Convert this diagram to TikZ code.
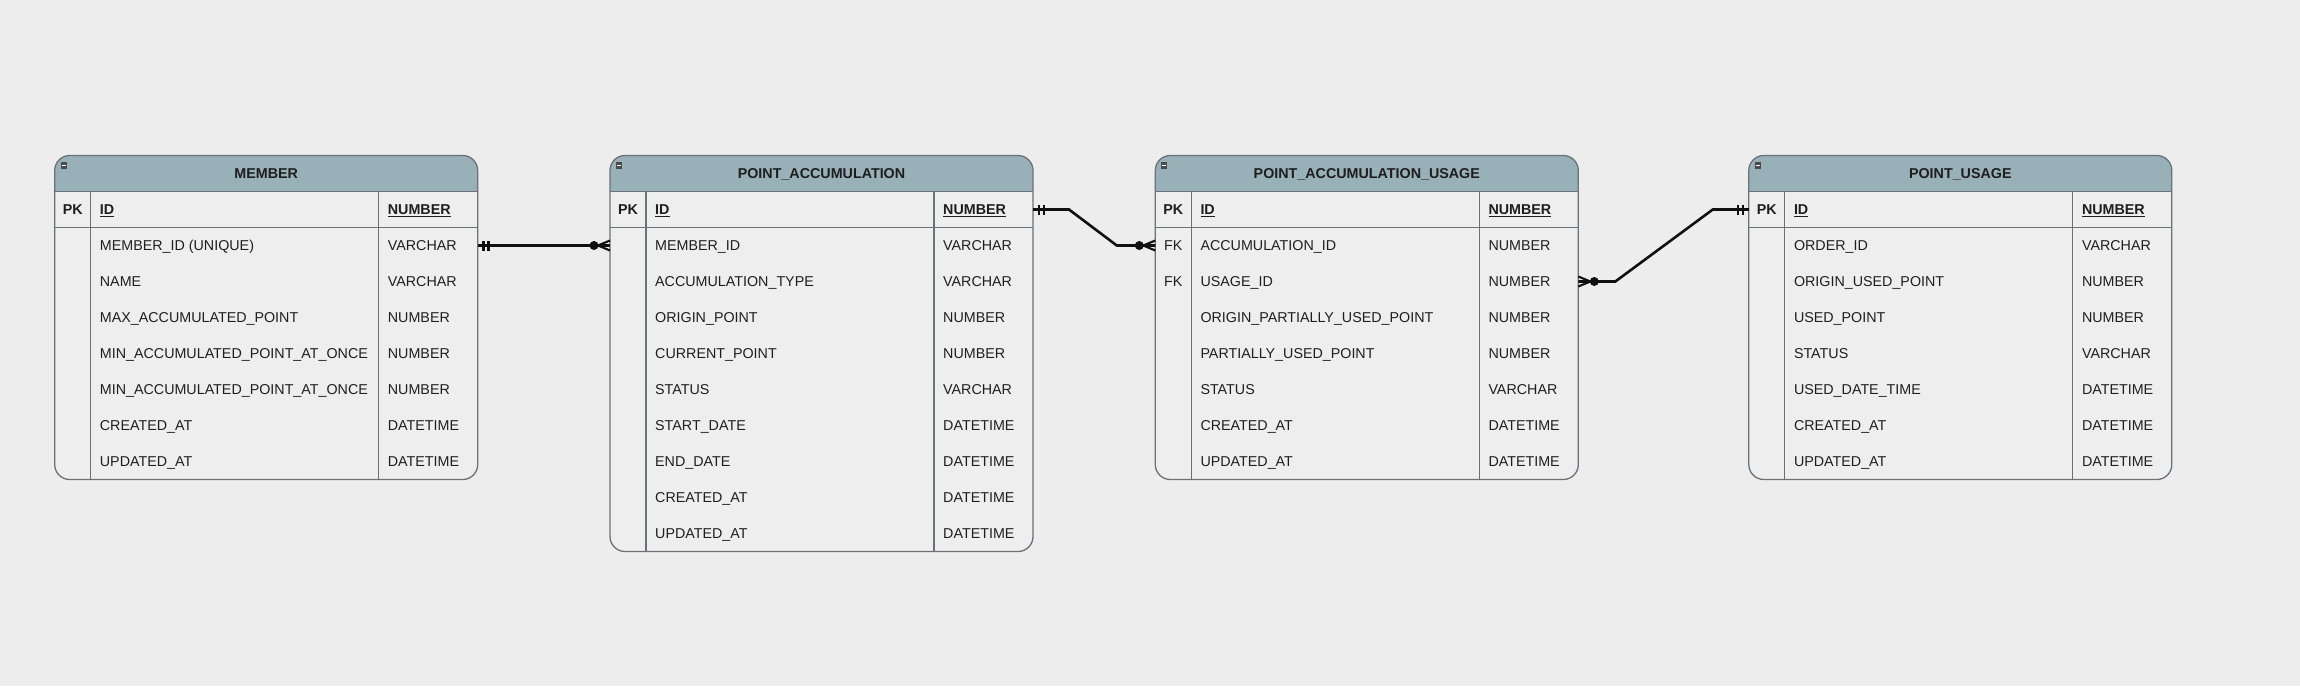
\documentclass[tikz,border=0pt]{standalone}
\usepackage{fontspec}
\setmainfont{Liberation Sans}
\definecolor{bg}{HTML}{EDEDED}
\definecolor{hdr}{HTML}{98B0B7}
\definecolor{bodyc}{HTML}{EEEEEE}
\definecolor{gridc}{HTML}{6B7176}
\definecolor{txt}{HTML}{1E1E1E}
\definecolor{iconc}{HTML}{4A4A4A}
\definecolor{relc}{HTML}{111111}
\newcommand\myul[1]{\setbox0\hbox{#1}\rlap{\rule[-2.4pt]{\wd0}{1.1pt}}\box0}
\tikzset{
  tblbox/.style={rectangle, fill=bodyc, inner sep=0pt, outer sep=0pt, minimum width=423pt, rounded corners=15pt},
  gridline/.style={draw=gridc, line width=1.3pt},
  cell/.style={inner sep=0pt, text height=10.2pt, text depth=0pt, font=\fontsize{14.3}{17}\selectfont, text=txt},
  boldcell/.style={cell, font=\fontsize{14.3}{17}\selectfont\bfseries},
  rel/.style={draw=relc, line width=2.6pt},
  relthin/.style={draw=relc, line width=2.1pt},
}
\newcommand\ertable[5]{%
  \node[tblbox, anchor=north west, minimum height={72+36*#4}] (#1) at (#2,155.5) {};
  \begin{scope}
    \clip[rounded corners=15pt] (#1.north west) rectangle (#1.south east);
    \fill[hdr] (#1.north west) rectangle ([yshift=-36pt]#1.north east);
  \end{scope}
  \draw[gridline, rounded corners=15pt] (#1.north west) rectangle (#1.south east);
  \draw[gridline] ([yshift=-36pt]#1.north west) -- ([yshift=-36pt]#1.north east);
  \draw[gridline] ([yshift=-72pt]#1.north west) -- ([yshift=-72pt]#1.north east);
  \draw[gridline] ([xshift=36pt,yshift=-36pt]#1.north west) -- ([xshift=36pt]#1.south west);
  \draw[gridline] ([xshift=324pt,yshift=-36pt]#1.north west) -- ([xshift=324pt]#1.south west);
  \fill[iconc] ([xshift=6pt,yshift=-6.5pt]#1.north west) rectangle ++(6pt,-7pt);
  \draw[white, line width=1.2pt] ([xshift=7pt,yshift=-10pt]#1.north west) -- ++(4pt,0pt);
  \node[boldcell] (#1-t) at ([yshift=-18pt]#1.north) {#3};
  \node[boldcell] (#1-k0) at ([xshift=18pt,yshift=-54pt]#1.north west) {PK};
  \node[boldcell, anchor=west] (#1-n0) at ([xshift=45pt,yshift=-54pt]#1.north west) {\myul{ID}};
  \node[boldcell, anchor=west] (#1-y0) at ([xshift=333pt,yshift=-54pt]#1.north west) {\myul{NUMBER}};
  \foreach \k/\n/\t [count=\i] in {#5} {
    \node[cell] (#1-k\i) at ([xshift=18pt,yshift={-(54+36*\i)*1pt}]#1.north west) {\k};
    \node[cell, anchor=west] (#1-n\i) at ([xshift=45pt,yshift={-(54+36*\i)*1pt}]#1.north west) {\n};
    \node[cell, anchor=west] (#1-y\i) at ([xshift=333pt,yshift={-(54+36*\i)*1pt}]#1.north west) {\t};
  }
}
\newcommand\mandone[2]{%
  \draw[relthin] ([xshift=#2*5.8pt,yshift=5pt]#1) -- ++(0pt,-10pt);
  \draw[relthin] ([xshift=#2*10.8pt,yshift=5pt]#1) -- ++(0pt,-10pt);
}
\newcommand\zeromany[2]{%
  \fill[relc] ([xshift=#2*16pt]#1) circle (4.5pt);
  \draw[relthin] ([xshift=#2*12pt]#1) -- ([yshift=5pt]#1);
  \draw[relthin] ([xshift=#2*12pt]#1) -- ([yshift=-5pt]#1);
}
\begin{document}
\begin{tikzpicture}[x=1pt, y=-1pt]
\useasboundingbox (0,0) rectangle (2300,686);
\fill[bg] (0,0) rectangle (2300,686);

\ertable{member}{54.7}{MEMBER}{7}{%
 /MEMBER\_ID (UNIQUE)/VARCHAR,
 /NAME/VARCHAR,
 /MAX\_ACCUMULATED\_POINT/NUMBER,
 /MIN\_ACCUMULATED\_POINT\_AT\_ONCE/NUMBER,
 /MIN\_ACCUMULATED\_POINT\_AT\_ONCE/NUMBER,
 /CREATED\_AT/DATETIME,
 /UPDATED\_AT/DATETIME}

\ertable{pa}{610}{POINT\_ACCUMULATION}{9}{%
 /MEMBER\_ID/VARCHAR,
 /ACCUMULATION\_TYPE/VARCHAR,
 /ORIGIN\_POINT/NUMBER,
 /CURRENT\_POINT/NUMBER,
 /STATUS/VARCHAR,
 /START\_DATE/DATETIME,
 /END\_DATE/DATETIME,
 /CREATED\_AT/DATETIME,
 /UPDATED\_AT/DATETIME}

\ertable{pau}{1155.3}{POINT\_ACCUMULATION\_USAGE}{7}{%
 FK/ACCUMULATION\_ID/NUMBER,
 FK/USAGE\_ID/NUMBER,
 /ORIGIN\_PARTIALLY\_USED\_POINT/NUMBER,
 /PARTIALLY\_USED\_POINT/NUMBER,
 /STATUS/VARCHAR,
 /CREATED\_AT/DATETIME,
 /UPDATED\_AT/DATETIME}

\ertable{pu}{1748.8}{POINT\_USAGE}{7}{%
 /ORDER\_ID/VARCHAR,
 /ORIGIN\_USED\_POINT/NUMBER,
 /USED\_POINT/NUMBER,
 /STATUS/VARCHAR,
 /USED\_DATE\_TIME/DATETIME,
 /CREATED\_AT/DATETIME,
 /UPDATED\_AT/DATETIME}

% relation MEMBER -> POINT_ACCUMULATION
\coordinate (c1s) at (member.east |- member-n1);
\coordinate (c1t) at (pa.west |- pa-n1);
\draw[rel] (c1s) -- (c1t);
\mandone{c1s}{1}
\zeromany{c1t}{-1}

% relation POINT_ACCUMULATION -> POINT_ACCUMULATION_USAGE
\coordinate (c2s) at (pa.east |- pa-n0);
\coordinate (c2t) at (pau.west |- pau-n1);
\draw[rel] (c2s) -- ([xshift=36pt]c2s) -- ([xshift=-38.5pt]c2t) -- (c2t);
\mandone{c2s}{1}
\zeromany{c2t}{-1}

% relation POINT_USAGE -> POINT_ACCUMULATION_USAGE
\coordinate (c3s) at (pu.west |- pu-n0);
\coordinate (c3t) at (pau.east |- pau-n2);
\draw[rel] (c3s) -- ([xshift=-36pt]c3s) -- ([xshift=37pt]c3t) -- (c3t);
\mandone{c3s}{-1}
\zeromany{c3t}{1}
\end{tikzpicture}
\end{document}
